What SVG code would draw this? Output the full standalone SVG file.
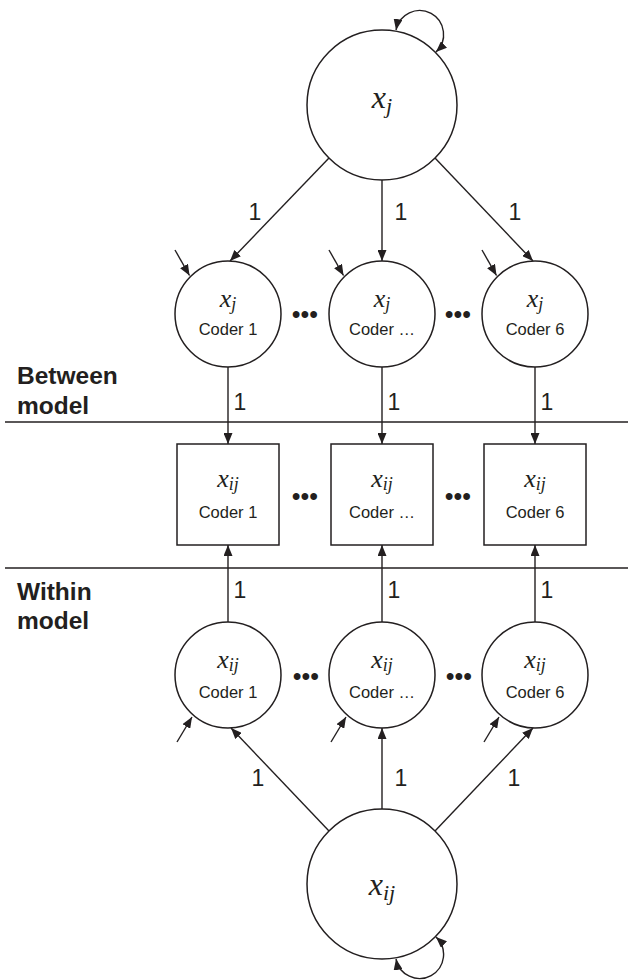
<svg xmlns="http://www.w3.org/2000/svg" width="628" height="980" viewBox="0 0 628 980">
<style>
.ln{stroke:#231f20;stroke-width:1.4;fill:none}
.arr{stroke:#231f20;stroke-width:1.4;fill:none;marker-end:url(#ah)}
.nd{stroke:#231f20;stroke-width:1.5;fill:#fff}
.mx{font-family:"Liberation Serif",serif;font-style:italic;fill:#231f20}
.cd{font-family:"Liberation Sans",Arial,sans-serif;font-size:16.5px;fill:#231f20;text-anchor:middle}
.one{font-family:"Liberation Sans",Arial,sans-serif;font-size:23px;fill:#231f20;text-anchor:middle}
.lab{font-family:"Liberation Sans",Arial,sans-serif;font-size:24.5px;font-weight:bold;fill:#231f20}
.dots{font-family:"Liberation Sans",Arial,sans-serif;font-size:25px;fill:#231f20;text-anchor:middle}
</style>
<defs>
<marker id="ah" markerUnits="userSpaceOnUse" markerWidth="12" markerHeight="9" refX="11" refY="4.5" orient="auto-start-reverse">
<path d="M0,0 L11,4.5 L0,9 z" fill="#231f20"/>
</marker>
</defs>

<g id="separators">
<line class="ln" x1="5" y1="422" x2="628" y2="422"/>
<line class="ln" x1="5" y1="568" x2="628" y2="568"/>
<text class="lab" x="17" y="384">Between</text>
<text class="lab" x="17" y="414">model</text>
<text class="lab" x="17" y="600">Within</text>
<text class="lab" x="17" y="629">model</text>
</g>

<g id="connectors">
<!-- self loops -->
<path class="ln" d="M396,30 A24,24 0 1 1 436,52" marker-start="url(#ah)" marker-end="url(#ah)"/>
<path class="ln" d="M396,959 A24,24 0 1 0 436,937" marker-start="url(#ah)" marker-end="url(#ah)"/>
<!-- top loadings -->
<line class="arr" x1="329" y1="158" x2="230" y2="261"/>
<line class="arr" x1="382" y1="180" x2="382" y2="261"/>
<line class="arr" x1="435" y1="158" x2="533" y2="261"/>
<!-- between to indicators -->
<line class="arr" x1="228" y1="367" x2="228" y2="444"/>
<line class="arr" x1="382" y1="367" x2="382" y2="444"/>
<line class="arr" x1="535" y1="367" x2="535" y2="444"/>
<!-- within to indicators -->
<line class="arr" x1="228" y1="622" x2="228" y2="545"/>
<line class="arr" x1="382" y1="622" x2="382" y2="545"/>
<line class="arr" x1="535" y1="622" x2="535" y2="545"/>
<!-- bottom loadings -->
<line class="arr" x1="329" y1="831" x2="231" y2="728"/>
<line class="arr" x1="382" y1="809" x2="382" y2="728"/>
<line class="arr" x1="435" y1="831" x2="533" y2="728"/>
<!-- error arrows top -->
<line class="arr" x1="175" y1="250" x2="189.5" y2="275.5"/>
<line class="arr" x1="329" y1="250" x2="343.5" y2="275.5"/>
<line class="arr" x1="482" y1="250" x2="496.5" y2="275.5"/>
<!-- error arrows bottom -->
<line class="arr" x1="177" y1="742" x2="192" y2="717"/>
<line class="arr" x1="331" y1="742" x2="346" y2="717"/>
<line class="arr" x1="484" y1="742" x2="499" y2="717"/>
<!-- labels -->
<text class="one" x="255" y="220">1</text>
<text class="one" x="401" y="220">1</text>
<text class="one" x="515" y="220">1</text>
<text class="one" x="240" y="410">1</text>
<text class="one" x="394" y="410">1</text>
<text class="one" x="547" y="410">1</text>
<text class="one" x="240" y="598">1</text>
<text class="one" x="394" y="598">1</text>
<text class="one" x="547" y="598">1</text>
<text class="one" x="258" y="786">1</text>
<text class="one" x="401" y="786">1</text>
<text class="one" x="514" y="786">1</text>
</g>

<g id="xj_top">
<circle class="nd" cx="382" cy="105" r="75"/>
<text class="mx" x="382" y="108" text-anchor="middle" font-size="32">x<tspan font-size="22" dy="5">j</tspan></text>
</g>

<g id="xj_coder1">
<circle class="nd" cx="228" cy="314" r="53"/>
<text class="mx" x="228" y="307" text-anchor="middle" font-size="26">x<tspan font-size="18" dy="3">j</tspan></text>
<text class="cd" x="228" y="335">Coder 1</text>
</g>
<g id="xj_coderdots">
<circle class="nd" cx="382" cy="314" r="53"/>
<text class="mx" x="382" y="307" text-anchor="middle" font-size="26">x<tspan font-size="18" dy="3">j</tspan></text>
<text class="cd" x="382" y="335">Coder …</text>
</g>
<g id="xj_coder6">
<circle class="nd" cx="535" cy="314" r="53"/>
<text class="mx" x="535" y="307" text-anchor="middle" font-size="26">x<tspan font-size="18" dy="3">j</tspan></text>
<text class="cd" x="535" y="335">Coder 6</text>
</g>

<g id="ind_coder1">
<rect class="nd" x="177" y="444" width="102" height="101"/>
<text class="mx" x="228" y="487" text-anchor="middle" font-size="26">x<tspan font-size="18" dy="3">ij</tspan></text>
<text class="cd" x="228" y="518">Coder 1</text>
</g>
<g id="ind_coderdots">
<rect class="nd" x="331" y="444" width="102" height="101"/>
<text class="mx" x="382" y="487" text-anchor="middle" font-size="26">x<tspan font-size="18" dy="3">ij</tspan></text>
<text class="cd" x="382" y="518">Coder …</text>
</g>
<g id="ind_coder6">
<rect class="nd" x="484" y="444" width="102" height="101"/>
<text class="mx" x="535" y="487" text-anchor="middle" font-size="26">x<tspan font-size="18" dy="3">ij</tspan></text>
<text class="cd" x="535" y="518">Coder 6</text>
</g>

<g id="xij_coder1">
<circle class="nd" cx="228" cy="675" r="53"/>
<text class="mx" x="228" y="668" text-anchor="middle" font-size="26">x<tspan font-size="18" dy="3">ij</tspan></text>
<text class="cd" x="228" y="698">Coder 1</text>
</g>
<g id="xij_coderdots">
<circle class="nd" cx="382" cy="675" r="53"/>
<text class="mx" x="382" y="668" text-anchor="middle" font-size="26">x<tspan font-size="18" dy="3">ij</tspan></text>
<text class="cd" x="382" y="698">Coder …</text>
</g>
<g id="xij_coder6">
<circle class="nd" cx="535" cy="675" r="53"/>
<text class="mx" x="535" y="668" text-anchor="middle" font-size="26">x<tspan font-size="18" dy="3">ij</tspan></text>
<text class="cd" x="535" y="698">Coder 6</text>
</g>

<g id="xij_bottom">
<circle class="nd" cx="382" cy="884" r="75"/>
<text class="mx" x="382" y="895" text-anchor="middle" font-size="32">x<tspan font-size="22" dy="5">ij</tspan></text>
</g>

<g id="ellipses">
<text class="dots" x="305" y="323">•••</text>
<text class="dots" x="458" y="323">•••</text>
<text class="dots" x="305" y="505">•••</text>
<text class="dots" x="458" y="505">•••</text>
<text class="dots" x="306" y="685">•••</text>
<text class="dots" x="459" y="685">•••</text>
</g>
</svg>
